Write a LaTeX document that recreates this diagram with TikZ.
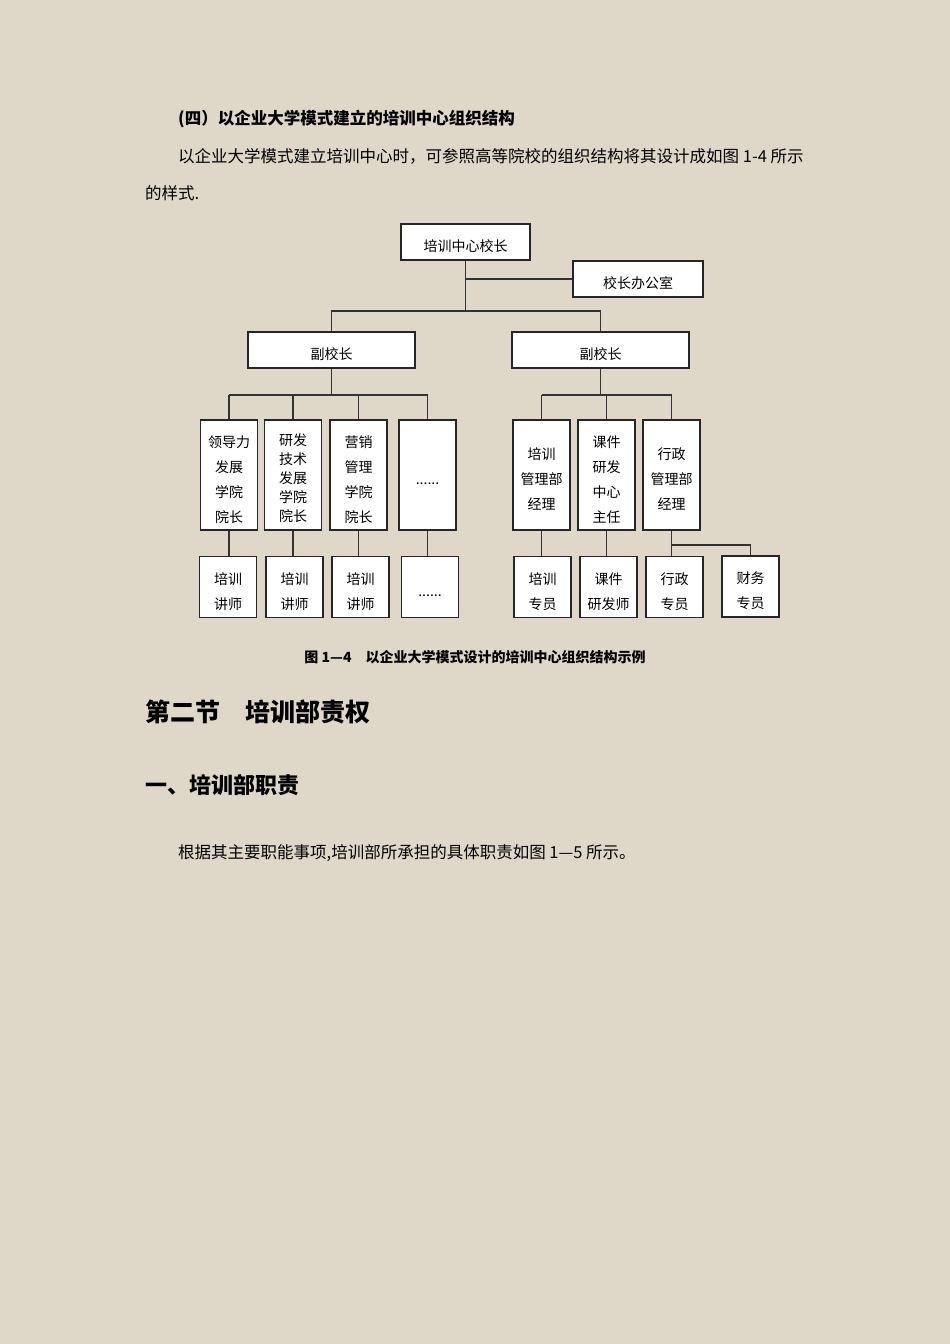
\documentclass[tikz,border=0pt]{standalone}
\usepackage{fontspec}
\setmainfont{Liberation Serif}
\newfontfamily\cjk{Noto Sans CJK SC}
\definecolor{paper}{RGB}{223,215,200}
\usetikzlibrary{positioning}
% box text, set a little below the middle of its box
\newcommand\boxtext[1]{\raisebox{-4.5pt}[\height][\depth]{\begin{tabular}{@{}c@{}}#1\end{tabular}}}

\begin{document}
\begin{tikzpicture}[x=1pt,y=-1pt,
  org box/.style={rectangle,draw=black!85,line width=1.1pt,fill=white,
    inner sep=0pt,font=\cjk\fontsize{14}{25}\selectfont},
  head box/.style={org box,minimum height=36pt},
  dean box/.style={org box,minimum width=57pt,minimum height=110pt},
  staff box/.style={org box,minimum width=57pt,minimum height=61pt},
  link/.style={draw=black!80,line width=1.5pt},
  body text/.style={anchor=west,inner sep=0pt,font=\cjk\fontsize{16.5}{20}\selectfont}]

  \fill[paper] (0,0) rectangle (950,1344);
  \useasboundingbox (0,0) rectangle (950,1344);

  % page text
  \node[body text,font=\cjk\bfseries\fontsize{16.5}{20}\selectfont] (title) at (178,119) {(四）以企业大学模式建立的培训中心组织结构};
  \node[body text] (para1) at (178,156) {以企业大学模式建立培训中心时，可参照高等院校的组织结构将其设计成如图 1-4 所示};
  \node[body text] (para2) at (145,193) {的样式.};

  % chart
  \node[head box,minimum width=129pt] (head) at (465.5,242) {\boxtext{培训中心校长}};
  \node[head box,minimum width=130pt] (office) at (638,279) {\boxtext{校长办公室}};
  \node[head box,minimum width=167pt] (vpL) at (331.5,350) {\boxtext{副校长}};
  \node[head box,minimum width=177pt] (vpR) at (600.5,350) {\boxtext{副校长}};

  \node[dean box] (dL1) at (229,475) {\boxtext{领导力\\发展\\学院\\院长}};
  \node[dean box,font=\cjk\fontsize{14}{19}\selectfont] (dL2) at (293,475) {\boxtext{研发\\技术\\发展\\学院\\院长}};
  \node[dean box] (dL3) at (358.5,475) {\boxtext{营销\\管理\\学院\\院长}};
  \node[dean box] (dL4) at (427.5,475) {\boxtext{......}};
  \node[dean box] (dR1) at (541.5,475) {\boxtext{培训\\管理部\\经理}};
  \node[dean box] (dR2) at (606.5,475) {\boxtext{课件\\研发\\中心\\主任}};
  \node[dean box] (dR3) at (671.5,475) {\boxtext{行政\\管理部\\经理}};

  \node[staff box] (sL1) at (228,587) {\boxtext{培训\\讲师}};
  \node[staff box] (sL2) at (294.5,587) {\boxtext{培训\\讲师}};
  \node[staff box] (sL3) at (360.5,587) {\boxtext{培训\\讲师}};
  \node[staff box] (sL4) at (430,587) {\boxtext{......}};
  \node[staff box] (sR1) at (542.5,587) {\boxtext{培训\\专员}};
  \node[staff box] (sR2) at (608.5,587) {\boxtext{课件\\研发师}};
  \node[staff box] (sR3) at (674.5,587) {\boxtext{行政\\专员}};
  \node[staff box] (sR4) at (750.5,586.5) {\boxtext{财务\\专员}};

  \coordinate (busTop) at (0,311);
  \coordinate (busDean) at (0,395);
  \coordinate (busFin) at (0,545);

  \draw[link] (head.south) -- (head.south |- busTop);
  \draw[link] (head.south |- office.west) -- (office.west);
  \draw[link] (vpL.north) |- (vpR.north |- busTop) -- (vpR.north);
  \draw[link] (vpL.south) -- (vpL.south |- busDean);
  \draw[link] (vpR.south) -- (vpR.south |- busDean);
  \draw[link] (dL1.north |- busDean) -- (dL4.north |- busDean);
  \draw[link] (dR1.north |- busDean) -- (dR3.north |- busDean);
  \draw[link] (dR3.south |- busFin) -| (sR4.north);

  \foreach \d in {dL1,dL2,dL3,dL4,dR1,dR2,dR3}
    \draw[link] (\d.north) -- (\d.north |- busDean);
  \foreach \d/\s in {dL1/sL1,dL2/sL2,dL3/sL3,dL4/sL4,dR1/sR1,dR2/sR2,dR3/sR3}
    \draw[link] (\d.south) -- (\d.south |- \s.north);

  % caption and following text
  \node[inner sep=0pt,font=\cjk\bfseries\fontsize{14}{16}\selectfont] (caption) at (475,657) {图 1—4\quad 以企业大学模式设计的培训中心组织结构示例};
  \node[body text,font=\cjk\bfseries\fontsize{25}{30}\selectfont] (section) at (145,712) {第二节\quad 培训部责权};
  \node[body text,font=\cjk\bfseries\fontsize{22}{26}\selectfont] (subsection) at (145,785) {一、培训部职责};
  \node[body text] (para3) at (178,853) {根据其主要职能事项,培训部所承担的具体职责如图 1—5 所示。};

\end{tikzpicture}
\end{document}
